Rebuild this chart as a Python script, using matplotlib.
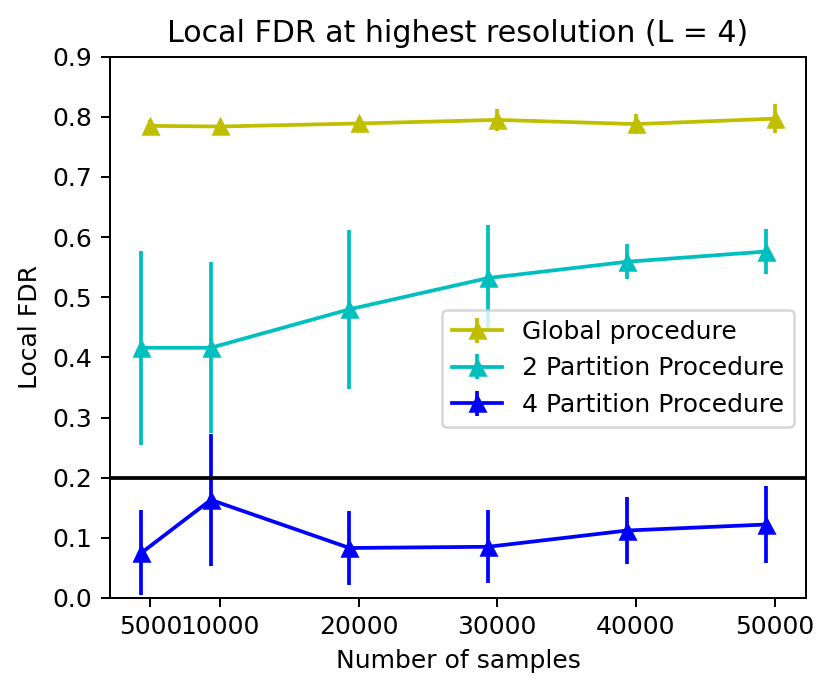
import numpy as np
import matplotlib
matplotlib.use("Agg")
import matplotlib.pyplot as plt

# sample sizes
n_samples = [5000, 10000, 20000, 30000, 40000, 50000]
shift = 650  # partition curves are drawn slightly left of the global one

global_fdr = [0.785, 0.784, 0.789, 0.795, 0.788, 0.797]
global_err = [0.010, 0.009, 0.010, 0.018, 0.017, 0.024]

part2_fdr = [0.416, 0.416, 0.480, 0.532, 0.559, 0.576]
part2_err = [0.161, 0.142, 0.132, 0.088, 0.029, 0.038]

part4_fdr = [0.075, 0.163, 0.083, 0.085, 0.112, 0.122]
part4_err = [0.071, 0.110, 0.062, 0.061, 0.055, 0.064]

threshold = 0.2


def main():
    dpi = 180
    fig = plt.figure(figsize=(832 / dpi, 692 / dpi), dpi=dpi)
    ax = fig.add_subplot(111)
    fig.subplots_adjust(left=0.132, right=0.969, top=0.918, bottom=0.136)

    x = np.array(n_samples)
    ax.errorbar(x, global_fdr, yerr=global_err, color='y', marker='^',
                label='Global procedure')
    ax.errorbar(x - shift, part2_fdr, yerr=part2_err, color='c', marker='^',
                label='2 Partition Procedure')
    ax.errorbar(x - shift, part4_fdr, yerr=part4_err, color='b', marker='^',
                label='4 Partition Procedure')
    ax.axhline(threshold, color='k')

    ax.set_ylim(0.0, 0.9)
    ax.set_xticks(n_samples)
    ax.set_title('Local FDR at highest resolution (L = 4)')
    ax.set_xlabel('Number of samples')
    ax.set_ylabel('Local FDR')
    ax.legend(loc='upper right', bbox_to_anchor=(0.982, 0.532), borderaxespad=0)

    fig.savefig('out.png', dpi=dpi)


if __name__ == '__main__':
    main()
